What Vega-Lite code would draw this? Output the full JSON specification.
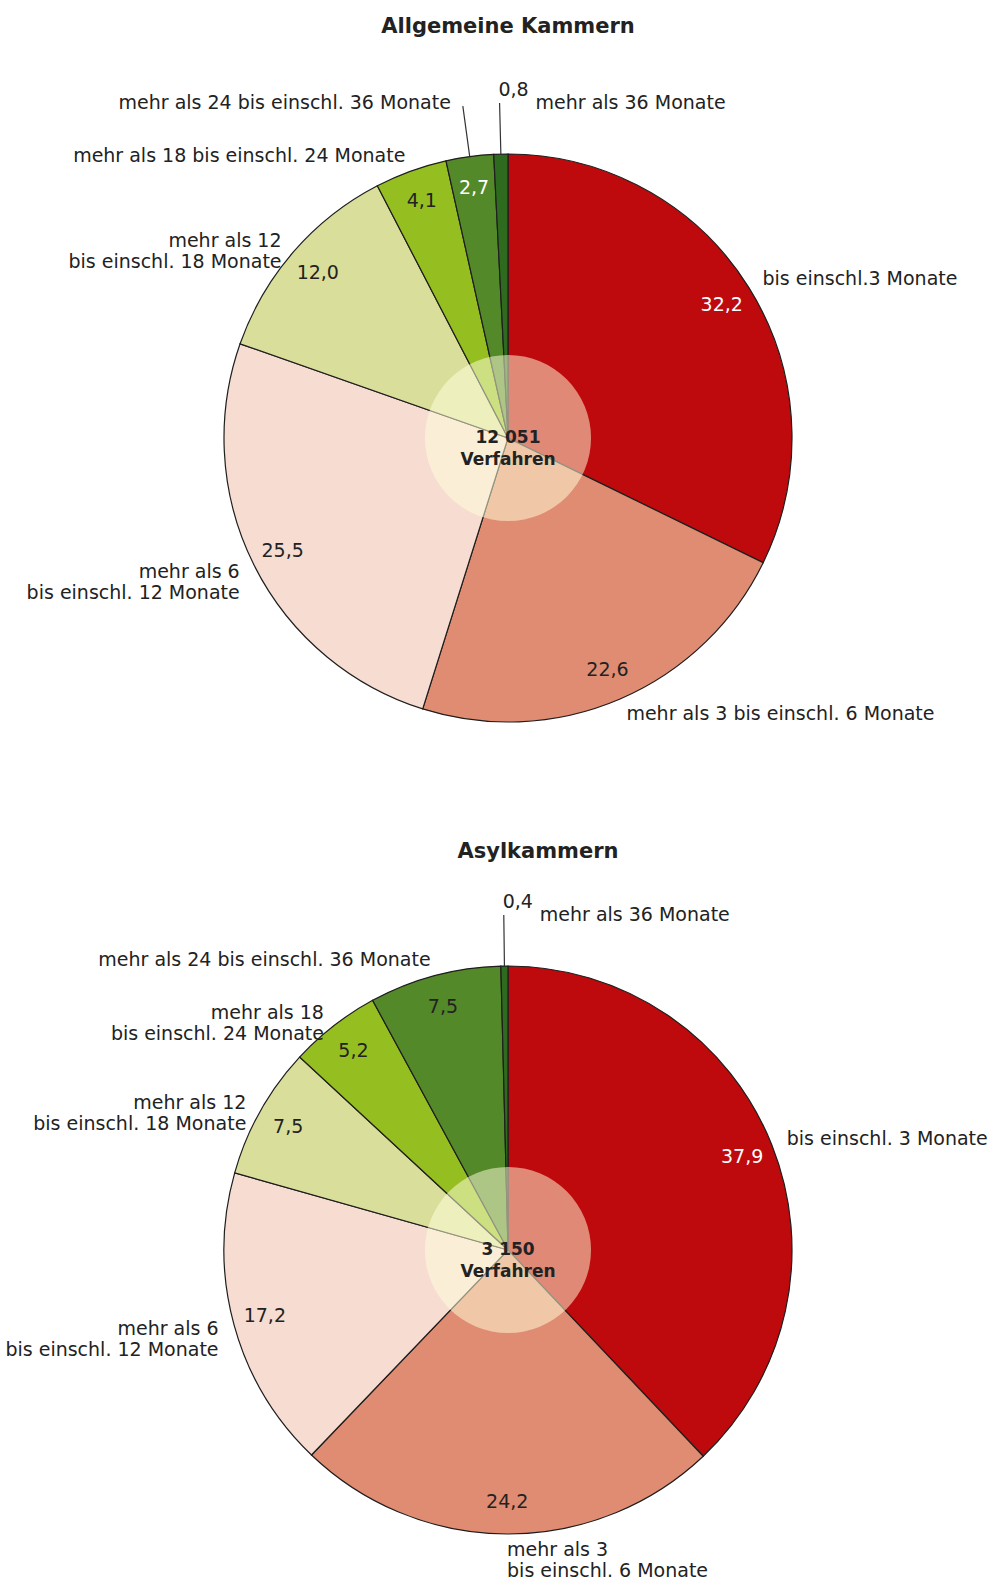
{
  "$schema": "https://vega.github.io/schema/vega-lite/v6.json",
  "padding": {"left": 5, "top": 16, "right": 0, "bottom": 0},
  "spacing": 25,
  "config": {
    "view": {"stroke": null},
    "font": "DejaVu Sans",
    "locale": {"number": {"decimal": ",", "thousands": " ", "grouping": [3], "currency": ["", " €"]}},
    "title": {"fontSize": 21, "font": "DejaVu Sans", "fontWeight": "bold", "color": "#222222", "anchor": "middle"},
    "text": {"font": "DejaVu Sans", "fontSize": 19, "color": "#222222", "lineBreak": "\n", "lineHeight": 21, "baseline": "middle"}
  },
  "vconcat": [
    {
      "title": {"text": "Allgemeine Kammern", "offset": 23},
      "width": 950,
      "height": 756,
      "data": {"values": [
        {"cat": "c1", "k": 1, "v": 32.2, "label": "bis einschl.3 Monate"},
        {"cat": "c2", "k": 2, "v": 22.6, "label": "mehr als 3 bis einschl. 6 Monate"},
        {"cat": "c3", "k": 3, "v": 25.5, "label": "mehr als 6\nbis einschl. 12 Monate"},
        {"cat": "c4", "k": 4, "v": 12.0, "label": "mehr als 12\nbis einschl. 18 Monate"},
        {"cat": "c5", "k": 5, "v": 4.1, "label": "mehr als 18 bis einschl. 24 Monate"},
        {"cat": "c6", "k": 6, "v": 2.7, "label": "mehr als 24 bis einschl. 36 Monate"},
        {"cat": "c7", "k": 7, "v": 0.8, "label": "mehr als 36 Monate"}
      ]},
      "layer": [
        {
          "mark": {"type": "arc", "radius": 284, "stroke": "#1e1e1e", "strokeWidth": 1.2},
          "encoding": {
            "theta": {"field": "v", "type": "quantitative", "stack": true},
            "order": {"field": "k", "type": "quantitative"},
            "color": {"field": "cat", "type": "nominal", "legend": null,
              "scale": {"domain": ["c1", "c2", "c3", "c4", "c5", "c6", "c7"],
                        "range": ["#BE0A0C", "#E08C72", "#F7DCD1", "#D9DE9B", "#95BE21", "#54892A", "#2F6B1E"]}}
          }
        },
        {
          "data": {"values": [{"n": 1}]},
          "mark": {"type": "arc", "radius": 83, "fill": "#FFFFDA", "fillOpacity": 0.52},
          "encoding": {"theta": {"value": 0}, "theta2": {"value": 6.2832}}
        },
        {
          "mark": {"type": "arc", "radius": 335, "radius2": 284, "padAngle": 0.4, "filled": false, "strokeWidth": 1.2},
          "encoding": {
            "theta": {"field": "v", "type": "quantitative", "stack": true},
            "order": {"field": "k", "type": "quantitative"},
            "stroke": {"condition": {"test": "datum.cat == 'c7' || (datum.cat == 'c6' && datum.v < 3)", "value": "#333333"}, "value": "transparent"}
          }
        },
        {
          "mark": {"type": "text", "radius": 252, "align": "center"},
          "encoding": {
            "theta": {"field": "v", "type": "quantitative", "stack": true},
            "order": {"field": "k", "type": "quantitative"},
            "text": {"condition": {"test": "datum.cat == 'c7'", "value": ""}, "field": "v", "type": "quantitative", "format": ".1f"},
            "color": {"condition": {"test": "datum.cat == 'c1' || (datum.cat == 'c6' && datum.v < 3)", "value": "#ffffff"}, "value": "#222222"}
          }
        },
        {
          "mark": {"type": "text", "radius": 300, "align": "left"},
          "encoding": {
            "theta": {"field": "v", "type": "quantitative", "stack": true},
            "order": {"field": "k", "type": "quantitative"},
            "text": {"condition": {"test": "(datum.v_start + datum.v_end) > 100.05 || datum.cat == 'c7' || (datum.cat == 'c6' && datum.v < 3)", "value": ""}, "field": "label", "type": "nominal"}
          }
        },
        {
          "mark": {"type": "text", "radius": 300, "align": "right"},
          "encoding": {
            "theta": {"field": "v", "type": "quantitative", "stack": true},
            "order": {"field": "k", "type": "quantitative"},
            "text": {"condition": {"test": "(datum.v_start + datum.v_end) <= 100.05 || datum.cat == 'c7' || (datum.cat == 'c6' && datum.v < 3)", "value": ""}, "field": "label", "type": "nominal"}
          }
        },
        {
          "mark": {"type": "text", "radius": 335, "align": "left", "dx": 36},
          "encoding": {
            "theta": {"field": "v", "type": "quantitative", "stack": true},
            "order": {"field": "k", "type": "quantitative"},
            "text": {"condition": {"test": "datum.cat != 'c7'", "value": ""}, "field": "label", "type": "nominal"}
          }
        },
        {
          "mark": {"type": "text", "radius": 335, "align": "center", "dx": 14, "dy": -13},
          "encoding": {
            "theta": {"field": "v", "type": "quantitative", "stack": true},
            "order": {"field": "k", "type": "quantitative"},
            "text": {"condition": {"test": "datum.cat != 'c7'", "value": ""}, "field": "v", "type": "quantitative", "format": ".1f"}
          }
        },
        {
          "mark": {"type": "text", "radius": 335, "align": "right", "dx": -12, "dy": -3},
          "encoding": {
            "theta": {"field": "v", "type": "quantitative", "stack": true},
            "order": {"field": "k", "type": "quantitative"},
            "text": {"condition": {"test": "!(datum.cat == 'c6' && datum.v < 3)", "value": ""}, "field": "label", "type": "nominal"}
          }
        },
        {
          "data": {"values": [{"t": "12 051\nVerfahren"}]},
          "mark": {"type": "text", "fontWeight": "bold", "fontSize": 17, "lineHeight": 22, "align": "center", "baseline": "middle"},
          "encoding": {"text": {"field": "t", "type": "nominal"}}
        }
      ]
    },
    {
      "title": {"text": "Asylkammern", "offset": 31, "dx": 30},
      "width": 950,
      "height": 660,
      "data": {"values": [
        {"cat": "c1", "k": 1, "v": 37.9, "label": "bis einschl. 3 Monate"},
        {"cat": "c2", "k": 2, "v": 24.2, "label": "mehr als 3\nbis einschl. 6 Monate"},
        {"cat": "c3", "k": 3, "v": 17.2, "label": "mehr als 6\nbis einschl. 12 Monate"},
        {"cat": "c4", "k": 4, "v": 7.5, "label": "mehr als 12\nbis einschl. 18 Monate"},
        {"cat": "c5", "k": 5, "v": 5.2, "label": "mehr als 18\nbis einschl. 24 Monate"},
        {"cat": "c6", "k": 6, "v": 7.5, "label": "mehr als 24 bis einschl. 36 Monate"},
        {"cat": "c7", "k": 7, "v": 0.4, "label": "mehr als 36 Monate"}
      ]},
      "layer": [
        {
          "mark": {"type": "arc", "radius": 284, "stroke": "#1e1e1e", "strokeWidth": 1.2},
          "encoding": {
            "theta": {"field": "v", "type": "quantitative", "stack": true},
            "order": {"field": "k", "type": "quantitative"},
            "color": {"field": "cat", "type": "nominal", "legend": null,
              "scale": {"domain": ["c1", "c2", "c3", "c4", "c5", "c6", "c7"],
                        "range": ["#BE0A0C", "#E08C72", "#F7DCD1", "#D9DE9B", "#95BE21", "#54892A", "#2F6B1E"]}}
          }
        },
        {
          "data": {"values": [{"n": 1}]},
          "mark": {"type": "arc", "radius": 83, "fill": "#FFFFDA", "fillOpacity": 0.52},
          "encoding": {"theta": {"value": 0}, "theta2": {"value": 6.2832}}
        },
        {
          "mark": {"type": "arc", "radius": 335, "radius2": 284, "padAngle": 0.4, "filled": false, "strokeWidth": 1.2},
          "encoding": {
            "theta": {"field": "v", "type": "quantitative", "stack": true},
            "order": {"field": "k", "type": "quantitative"},
            "stroke": {"condition": {"test": "datum.cat == 'c7' || (datum.cat == 'c6' && datum.v < 3)", "value": "#333333"}, "value": "transparent"}
          }
        },
        {
          "mark": {"type": "text", "radius": 252, "align": "center"},
          "encoding": {
            "theta": {"field": "v", "type": "quantitative", "stack": true},
            "order": {"field": "k", "type": "quantitative"},
            "text": {"condition": {"test": "datum.cat == 'c7'", "value": ""}, "field": "v", "type": "quantitative", "format": ".1f"},
            "color": {"condition": {"test": "datum.cat == 'c1' || (datum.cat == 'c6' && datum.v < 3)", "value": "#ffffff"}, "value": "#222222"}
          }
        },
        {
          "mark": {"type": "text", "radius": 300, "align": "left"},
          "encoding": {
            "theta": {"field": "v", "type": "quantitative", "stack": true},
            "order": {"field": "k", "type": "quantitative"},
            "text": {"condition": {"test": "(datum.v_start + datum.v_end) > 100.05 || datum.cat == 'c7' || (datum.cat == 'c6' && datum.v < 3)", "value": ""}, "field": "label", "type": "nominal"}
          }
        },
        {
          "mark": {"type": "text", "radius": 300, "align": "right"},
          "encoding": {
            "theta": {"field": "v", "type": "quantitative", "stack": true},
            "order": {"field": "k", "type": "quantitative"},
            "text": {"condition": {"test": "(datum.v_start + datum.v_end) <= 100.05 || datum.cat == 'c7' || (datum.cat == 'c6' && datum.v < 3)", "value": ""}, "field": "label", "type": "nominal"}
          }
        },
        {
          "mark": {"type": "text", "radius": 335, "align": "left", "dx": 36},
          "encoding": {
            "theta": {"field": "v", "type": "quantitative", "stack": true},
            "order": {"field": "k", "type": "quantitative"},
            "text": {"condition": {"test": "datum.cat != 'c7'", "value": ""}, "field": "label", "type": "nominal"}
          }
        },
        {
          "mark": {"type": "text", "radius": 335, "align": "center", "dx": 14, "dy": -13},
          "encoding": {
            "theta": {"field": "v", "type": "quantitative", "stack": true},
            "order": {"field": "k", "type": "quantitative"},
            "text": {"condition": {"test": "datum.cat != 'c7'", "value": ""}, "field": "v", "type": "quantitative", "format": ".1f"}
          }
        },
        {
          "mark": {"type": "text", "radius": 335, "align": "right", "dx": -12, "dy": -3},
          "encoding": {
            "theta": {"field": "v", "type": "quantitative", "stack": true},
            "order": {"field": "k", "type": "quantitative"},
            "text": {"condition": {"test": "!(datum.cat == 'c6' && datum.v < 3)", "value": ""}, "field": "label", "type": "nominal"}
          }
        },
        {
          "data": {"values": [{"t": "3 150\nVerfahren"}]},
          "mark": {"type": "text", "fontWeight": "bold", "fontSize": 17, "lineHeight": 22, "align": "center", "baseline": "middle"},
          "encoding": {"text": {"field": "t", "type": "nominal"}}
        }
      ]
    }
  ]
}
